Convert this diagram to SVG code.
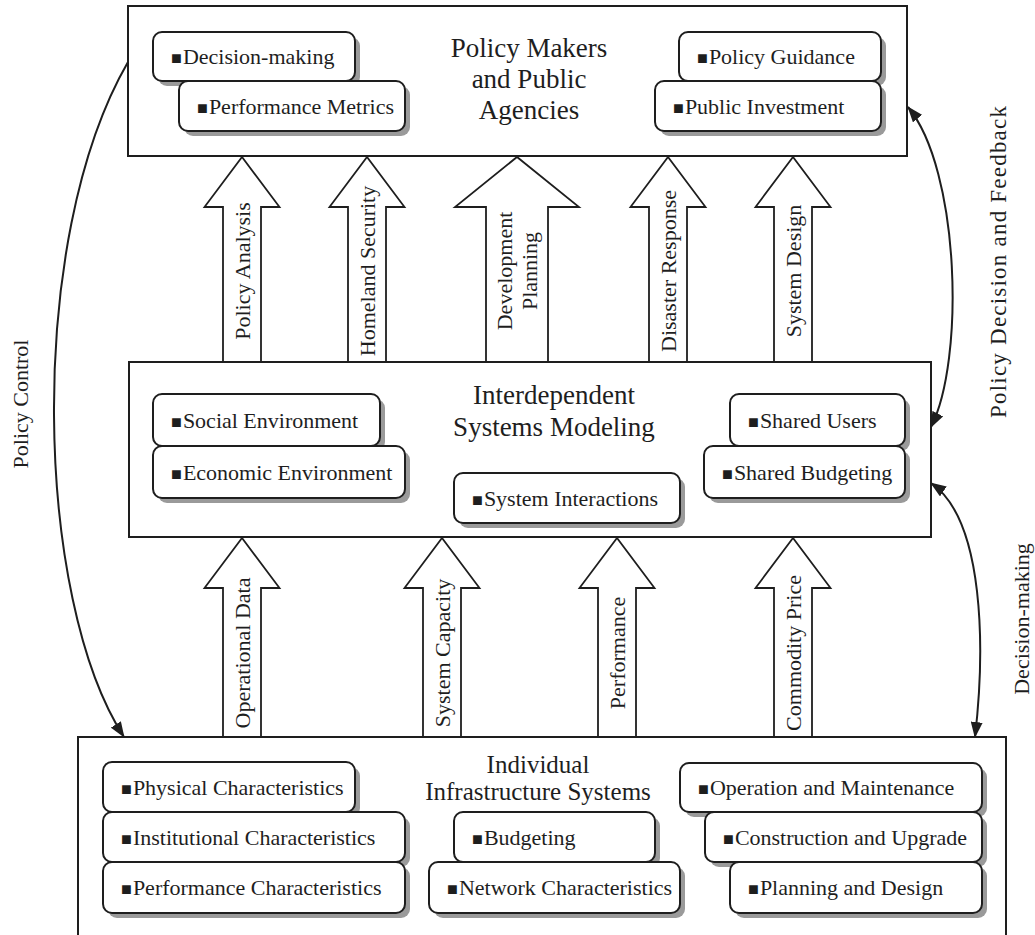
<svg xmlns="http://www.w3.org/2000/svg" width="1035" height="935" viewBox="0 0 1035 935">
<style>
text{font-family:"Liberation Serif","Times New Roman",serif;fill:#1e1e1e}
.t{font-size:22px}
.h{font-size:27px;text-anchor:middle}
.hb{font-size:25px;text-anchor:middle}
.lab{font-size:22px;text-anchor:middle}
.big{fill:#fff;stroke:#1e1e1e;stroke-width:2}
.sub{fill:#fff;stroke:#1e1e1e;stroke-width:2}
.sh{fill:#9a9a9a}
.blk{fill:#fff;stroke:#1e1e1e;stroke-width:1.8;stroke-linejoin:miter}
.b{font-size:18px}
.con{fill:none;stroke:#1e1e1e;stroke-width:2}
</style>
<defs>
<marker id="ah" markerUnits="userSpaceOnUse" markerWidth="16" markerHeight="12" refX="15" refY="6" orient="auto-start-reverse">
<path d="M0,0 L16,6 L0,12 z" fill="#1e1e1e"/>
</marker>
</defs>
<rect width="1035" height="935" fill="#fff"/>

<g id="top">
<rect class="big" x="128" y="6" width="779" height="150"/>
<text class="h" x="529" y="57">Policy Makers</text>
<text class="h" x="529" y="88">and Public</text>
<text class="h" x="529" y="119">Agencies</text>
<g id="t1"><rect class="sh" x="158" y="37" width="202" height="49" rx="9"/><rect class="sub" x="153" y="32" width="202" height="49" rx="9"/><text class="t" x="171" y="64"><tspan class="b">■</tspan><tspan dx="1">Decision-making</tspan></text></g>
<g id="t2"><rect class="sh" x="184" y="86" width="226" height="50" rx="9"/><rect class="sub" x="179" y="81" width="226" height="50" rx="9"/><text class="t" x="197" y="113.5"><tspan class="b">■</tspan><tspan dx="1">Performance Metrics</tspan></text></g>
<g id="t3"><rect class="sh" x="684" y="37" width="202" height="49" rx="9"/><rect class="sub" x="679" y="32" width="202" height="49" rx="9"/><text class="t" x="697" y="64"><tspan class="b">■</tspan><tspan dx="1">Policy Guidance</tspan></text></g>
<g id="t4"><rect class="sh" x="660" y="86" width="226" height="50" rx="9"/><rect class="sub" x="655" y="81" width="226" height="50" rx="9"/><text class="t" x="673" y="113.5"><tspan class="b">■</tspan><tspan dx="1">Public Investment</tspan></text></g>
</g>

<g id="middle">
<rect class="big" x="129" y="362" width="802" height="175"/>
<text class="h" x="554" y="404">Interdependent</text>
<text class="h" x="554" y="436">Systems Modeling</text>
<g id="m1"><rect class="sh" x="158" y="399" width="227" height="52" rx="9"/><rect class="sub" x="153" y="394" width="227" height="52" rx="9"/><text class="t" x="171" y="427.5"><tspan class="b">■</tspan><tspan dx="1">Social Environment</tspan></text></g>
<g id="m2"><rect class="sh" x="158" y="451" width="252" height="52" rx="9"/><rect class="sub" x="153" y="446" width="252" height="52" rx="9"/><text class="t" x="171" y="479.5"><tspan class="b">■</tspan><tspan dx="1">Economic Environment</tspan></text></g>
<g id="m3"><rect class="sh" x="459" y="478" width="226" height="50" rx="9"/><rect class="sub" x="454" y="473" width="226" height="50" rx="9"/><text class="t" x="472" y="505.5"><tspan class="b">■</tspan><tspan dx="1">System Interactions</tspan></text></g>
<g id="m4"><rect class="sh" x="735" y="399" width="175" height="52" rx="9"/><rect class="sub" x="730" y="394" width="175" height="52" rx="9"/><text class="t" x="748" y="427.5"><tspan class="b">■</tspan><tspan dx="1">Shared Users</tspan></text></g>
<g id="m5"><rect class="sh" x="709" y="451" width="201" height="52" rx="9"/><rect class="sub" x="704" y="446" width="201" height="52" rx="9"/><text class="t" x="722" y="479.5"><tspan class="b">■</tspan><tspan dx="1">Shared Budgeting</tspan></text></g>
</g>

<g id="bottom">
<rect class="big" x="78" y="737" width="928" height="210"/>
<text class="hb" x="538" y="773">Individual</text>
<text class="hb" x="538" y="800">Infrastructure Systems</text>
<g id="b1"><rect class="sh" x="108" y="767" width="252" height="50" rx="9"/><rect class="sub" x="103" y="762" width="252" height="50" rx="9"/><text class="t" x="121" y="794.5"><tspan class="b">■</tspan><tspan dx="1">Physical Characteristics</tspan></text></g>
<g id="b2"><rect class="sh" x="108" y="817" width="302" height="50" rx="9"/><rect class="sub" x="103" y="812" width="302" height="50" rx="9"/><text class="t" x="121" y="844.5"><tspan class="b">■</tspan><tspan dx="1">Institutional Characteristics</tspan></text></g>
<g id="b3"><rect class="sh" x="108" y="867" width="302" height="51" rx="9"/><rect class="sub" x="103" y="862" width="302" height="51" rx="9"/><text class="t" x="121" y="895"><tspan class="b">■</tspan><tspan dx="1">Performance Characteristics</tspan></text></g>
<g id="b4"><rect class="sh" x="459" y="817" width="201" height="50" rx="9"/><rect class="sub" x="454" y="812" width="201" height="50" rx="9"/><text class="t" x="472" y="844.5"><tspan class="b">■</tspan><tspan dx="1">Budgeting</tspan></text></g>
<g id="b5"><rect class="sh" x="434" y="867" width="251" height="51" rx="9"/><rect class="sub" x="429" y="862" width="251" height="51" rx="9"/><text class="t" x="447" y="895"><tspan class="b">■</tspan><tspan dx="1">Network Characteristics</tspan></text></g>
<g id="b6"><rect class="sh" x="685" y="768" width="302" height="49" rx="9"/><rect class="sub" x="680" y="763" width="302" height="49" rx="9"/><text class="t" x="698" y="795"><tspan class="b">■</tspan><tspan dx="1">Operation and Maintenance</tspan></text></g>
<g id="b7"><rect class="sh" x="710" y="817" width="277" height="50" rx="9"/><rect class="sub" x="705" y="812" width="277" height="50" rx="9"/><text class="t" x="723" y="844.5"><tspan class="b">■</tspan><tspan dx="1">Construction and Upgrade</tspan></text></g>
<g id="b8"><rect class="sh" x="735" y="867" width="252" height="51" rx="9"/><rect class="sub" x="730" y="862" width="252" height="51" rx="9"/><text class="t" x="748" y="895"><tspan class="b">■</tspan><tspan dx="1">Planning and Design</tspan></text></g>
</g>

<g id="connectors">
<g id="a1"><polygon class="blk" points="223,362 223,207 204.5,207 242,157 279.5,207 261,207 261,362"/><text class="lab" transform="translate(250,271) rotate(-90)">Policy Analysis</text></g>
<g id="a2"><polygon class="blk" points="348,362 348,207 329.5,207 367,157 404.5,207 386,207 386,362"/><text class="lab" transform="translate(375,271) rotate(-90)">Homeland Security</text></g>
<g id="a3"><polygon class="blk" points="486,362 486,207 455,207 517,157 579,207 548,207 548,362"/><text class="lab" transform="translate(512,271) rotate(-90)">Development</text><text class="lab" transform="translate(537,271) rotate(-90)">Planning</text></g>
<g id="a4"><polygon class="blk" points="649,362 649,207 630.5,207 668,157 705.5,207 687,207 687,362"/><text class="lab" transform="translate(676,271) rotate(-90)">Disaster Response</text></g>
<g id="a5"><polygon class="blk" points="774,362 774,207 755.5,207 793,157 830.5,207 812,207 812,362"/><text class="lab" transform="translate(801,271) rotate(-90)">System Design</text></g>
<g id="a6"><polygon class="blk" points="223,737 223,588 204.5,588 242,538 279.5,588 261,588 261,737"/><text class="lab" transform="translate(250,653) rotate(-90)">Operational Data</text></g>
<g id="a7"><polygon class="blk" points="423,737 423,588 404.5,588 442,538 479.5,588 461,588 461,737"/><text class="lab" transform="translate(450,653) rotate(-90)">System Capacity</text></g>
<g id="a8"><polygon class="blk" points="598,737 598,588 579.5,588 617,538 654.5,588 636,588 636,737"/><text class="lab" transform="translate(625,653) rotate(-90)">Performance</text></g>
<g id="a9"><polygon class="blk" points="774,737 774,588 755.5,588 793,538 830.5,588 812,588 812,737"/><text class="lab" transform="translate(801,653) rotate(-90)">Commodity Price</text></g>
<path class="con" d="M128,62 C25,240 35,600 124,737" marker-end="url(#ah)"/>
<path class="con" d="M908,107 C960,170 965,360 931,427" marker-start="url(#ah)" marker-end="url(#ah)"/>
<path class="con" d="M931,483 C985,520 985,650 975,737" marker-start="url(#ah)" marker-end="url(#ah)"/>
<text class="lab" transform="translate(28,404) rotate(-90)">Policy Control</text>
<text class="lab" style="font-size:23px" transform="translate(1006,262) rotate(-90)" textLength="312" lengthAdjust="spacing">Policy Decision and Feedback</text>
<text class="lab" transform="translate(1029,619) rotate(-90)">Decision-making</text>
</g>
</svg>
